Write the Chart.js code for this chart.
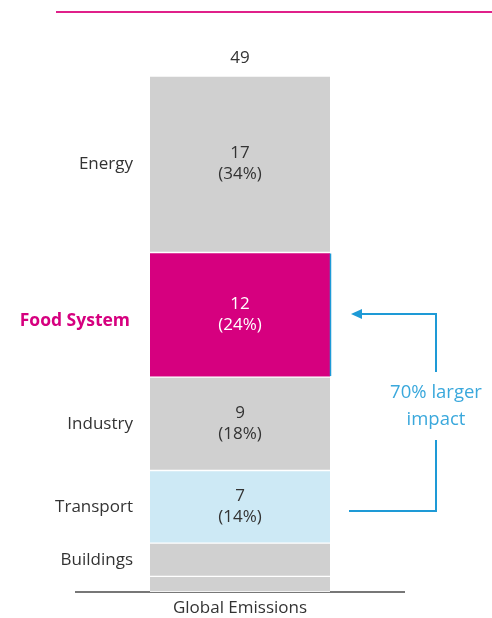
<!DOCTYPE html>
<html>
<head>
<meta charset="utf-8">
<script src="https://cdn.jsdelivr.net/npm/chart.js@4.4.1/dist/chart.umd.min.js"></script>
<style>
  html, body { margin: 0; padding: 0; background: #ffffff; }
  #wrap { position: relative; width: 492px; height: 618px; }
</style>
</head>
<body>
<div id="wrap"><canvas id="c" width="492" height="618"></canvas></div>
<script>
// ---- data (bottom to top of the stack) ----
const categories = ["Global Emissions"];
const sectors = ["Other", "Buildings", "Transport", "Industry", "Food System", "Energy"];
const values = [1.5, 3.2, 7, 9, 12, 17];
const valueLabels = ["", "", "7", "9", "12", "17"];
const pctLabels = ["", "", "(14%)", "(18%)", "(24%)", "(34%)"];
const sectorLabels = ["", "Buildings", "Transport", "Industry", "Food System", "Energy"];
const totalLabel = "49";
const calloutLines = ["70% larger", "impact"];

const colors = ["#d0d0d0", "#d0d0d0", "#cde9f5", "#d0d0d0", "#d6007f", "#d0d0d0"];
const textColors = ["#333", "#333", "#333", "#333", "#ffffff", "#333"];
const FONT = "'Open Sans', Lato, sans-serif";
const stackTop = values.reduce((a, b) => a + b, 0);

const datasets = sectors.map((s, i) => ({
  label: s,
  data: [values[i]],
  backgroundColor: colors[i],
  borderColor: "#ffffff",
  borderWidth: { top: 1, bottom: 1, left: 0, right: 0 },
  borderSkipped: false,
  barThickness: 180
}));

const annot = {
  id: "annot",
  afterDatasetsDraw(chart) {
    const ctx = chart.ctx;
    ctx.save();
    // pink header rule
    ctx.strokeStyle = "#e0208a";
    ctx.lineWidth = 2;
    ctx.beginPath();
    ctx.moveTo(56, 12); ctx.lineTo(492, 12);
    ctx.stroke();

    const metas = sectors.map((s, i) => chart.getDatasetMeta(i).data[0]);
    ctx.textAlign = "center";
    ctx.textBaseline = "middle";
    // values inside bar
    metas.forEach((el, i) => {
      if (!valueLabels[i]) return;
      const cy = (el.y + el.base) / 2;
      ctx.fillStyle = textColors[i];
      ctx.font = "17px " + FONT;
      ctx.fillText(valueLabels[i], el.x, cy - 11);
      ctx.fillText(pctLabels[i], el.x, cy + 10);
    });
    // total on top
    const top = metas[metas.length - 1];
    ctx.fillStyle = "#333";
    ctx.font = "17px " + FONT;
    ctx.fillText(totalLabel, top.x, top.y - 18);

    // sector labels on left
    ctx.textAlign = "right";
    metas.forEach((el, i) => {
      if (!sectorLabels[i]) return;
      let cy = (el.y + el.base) / 2;
      if (sectorLabels[i] === "Food System") {
        ctx.fillStyle = "#d6007f";
        ctx.font = "bold 17.5px " + FONT;
        cy += 6;
        ctx.fillText(sectorLabels[i], 130, cy);
      } else {
        ctx.fillStyle = "#333";
        ctx.font = "17px " + FONT;
        ctx.fillText(sectorLabels[i], 133, cy);
      }
    });

    // callout arrow
    const food = metas[4];
    const yFood = 314;
    const yTrans = 511;
    const xr = 436;
    ctx.strokeStyle = "#1e9ad6";
    ctx.fillStyle = "#1e9ad6";
    ctx.lineWidth = 2;
    ctx.beginPath();
    ctx.moveTo(349, yTrans); ctx.lineTo(xr, yTrans); ctx.lineTo(xr, 440);
    ctx.moveTo(xr, 372); ctx.lineTo(xr, yFood); ctx.lineTo(360, yFood);
    ctx.stroke();
    ctx.beginPath();
    ctx.moveTo(351, yFood); ctx.lineTo(362, yFood - 5); ctx.lineTo(362, yFood + 5);
    ctx.closePath(); ctx.fill();
    // thin blue edge on food segment
    ctx.lineWidth = 1.5;
    ctx.beginPath();
    ctx.moveTo(food.x + 90.5, food.y + 1); ctx.lineTo(food.x + 90.5, food.base - 1);
    ctx.stroke();

    ctx.fillStyle = "#3aa8dc";
    ctx.font = "18.5px " + FONT;
    ctx.textAlign = "center";
    ctx.fillText(calloutLines[0], xr, 393);
    ctx.fillText(calloutLines[1], xr, 420);
    ctx.restore();
  }
};

new Chart(document.getElementById("c"), {
  type: "bar",
  data: { labels: categories, datasets },
  options: {
    responsive: false,
    animation: false,
    events: [],
    layout: { padding: { top: 76, left: 76, right: 88, bottom: 0 } },
    plugins: { legend: { display: false }, tooltip: { enabled: false } },
    scales: {
      x: {
        stacked: true,
        grid: { display: false, drawTicks: false },
        border: { display: true, color: "#777", width: 2 },
        ticks: { color: "#333", font: { size: 17, family: FONT }, padding: 6 },
        afterFit: (scale) => { scale.height = 26; }
      },
      y: {
        stacked: true,
        display: false,
        min: 0,
        max: stackTop
      }
    }
  },
  plugins: [annot]
});
</script>
</body>
</html>
